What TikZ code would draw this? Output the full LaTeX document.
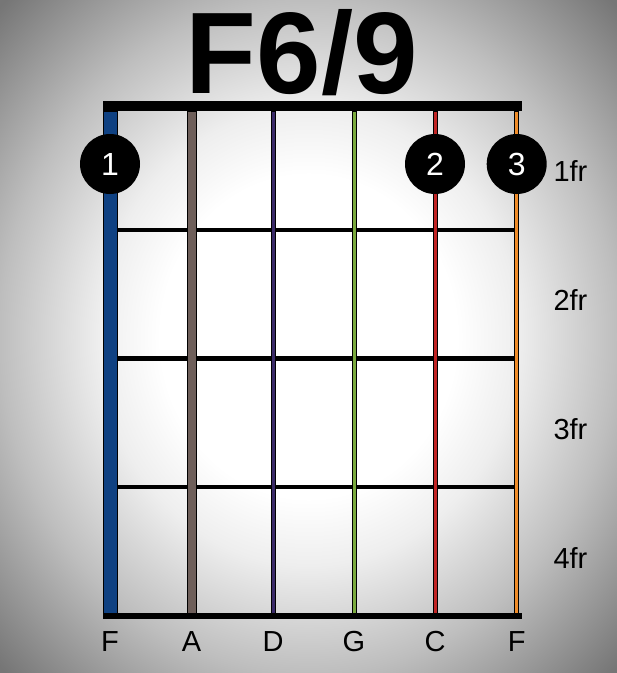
\documentclass[tikz,border=0pt]{standalone}
\usepackage{fontspec}
\setmainfont{Liberation Sans}
\usepackage{tikz}
\definecolor{StrLowF}{RGB}{15,65,130}
\definecolor{StrA}   {RGB}{110,95,90}
\definecolor{StrD}   {RGB}{58,42,105}
\definecolor{StrG}   {RGB}{122,170,62}
\definecolor{StrC}   {RGB}{192,36,36}
\definecolor{StrHiF} {RGB}{240,140,40}
\definecolor{VigIn}  {RGB}{238,238,238}
\definecolor{VigMid} {RGB}{190,190,190}
\definecolor{VigOut} {RGB}{118,118,118}
\pgfdeclareradialshading{vignette}{\pgfpoint{0bp}{0bp}}{%
  color(0bp)=(white); color(12bp)=(white); color(17bp)=(VigIn); color(25bp)=(VigMid); color(35bp)=(VigOut); color(50bp)=(VigOut)}
\tikzset{
  nd_dot/.style={circle,fill=black,minimum size=60pt,inner sep=0pt,text=white,font=\fontsize{32}{32}\selectfont},
  nd_fret/.style={anchor=west,font=\fontsize{29}{29}\selectfont},
  nd_name/.style={font=\fontsize{29}{29}\selectfont},
  fretline/.style={line width=4.5pt},
  strbox/.style={draw=black,line width=0.8pt},
}

\begin{document}
\begin{tikzpicture}[x=1pt,y=-1pt]
\useasboundingbox (0,0) rectangle (617,673);
\shade[shading=vignette] (0,0) rectangle (617,673);
% title
\node[anchor=base,font=\fontsize{116}{116}\selectfont\bfseries] (title) at (302,93) {F6/9};
% nut and bottom
\fill[black] (103,101) rectangle (522,111);
\fill[black] (103,613) rectangle (522,619);
% frets
\foreach \y in {230,358.5,487}{\draw[fretline] (117,\y) -- (517,\y);}
% strings
\foreach \x/\w/\c/\n [count=\i] in {110/14/StrLowF/F,191.5/9/StrA/A,273/4/StrD/D,354/4/StrG/G,435/4/StrC/C,516.7/4/StrHiF/F}{
  \filldraw[strbox,fill=\c] (\x-\w/2,111) rectangle (\x+\w/2,613);
  \node[nd_name] (sn\i) at (\x,642) {\n};
}
% fingers
\node[nd_dot] (d1) at (110,164) {1};
\node[nd_dot] (d2) at (435,164) {2};
\node[nd_dot] (d3) at (516.7,164) {3};
% fret numbers
\foreach \y [count=\i] in {171,300,429,558}{\node[nd_fret] (fr\i) at (550,\y) {\i fr};}
\end{tikzpicture}
\end{document}
